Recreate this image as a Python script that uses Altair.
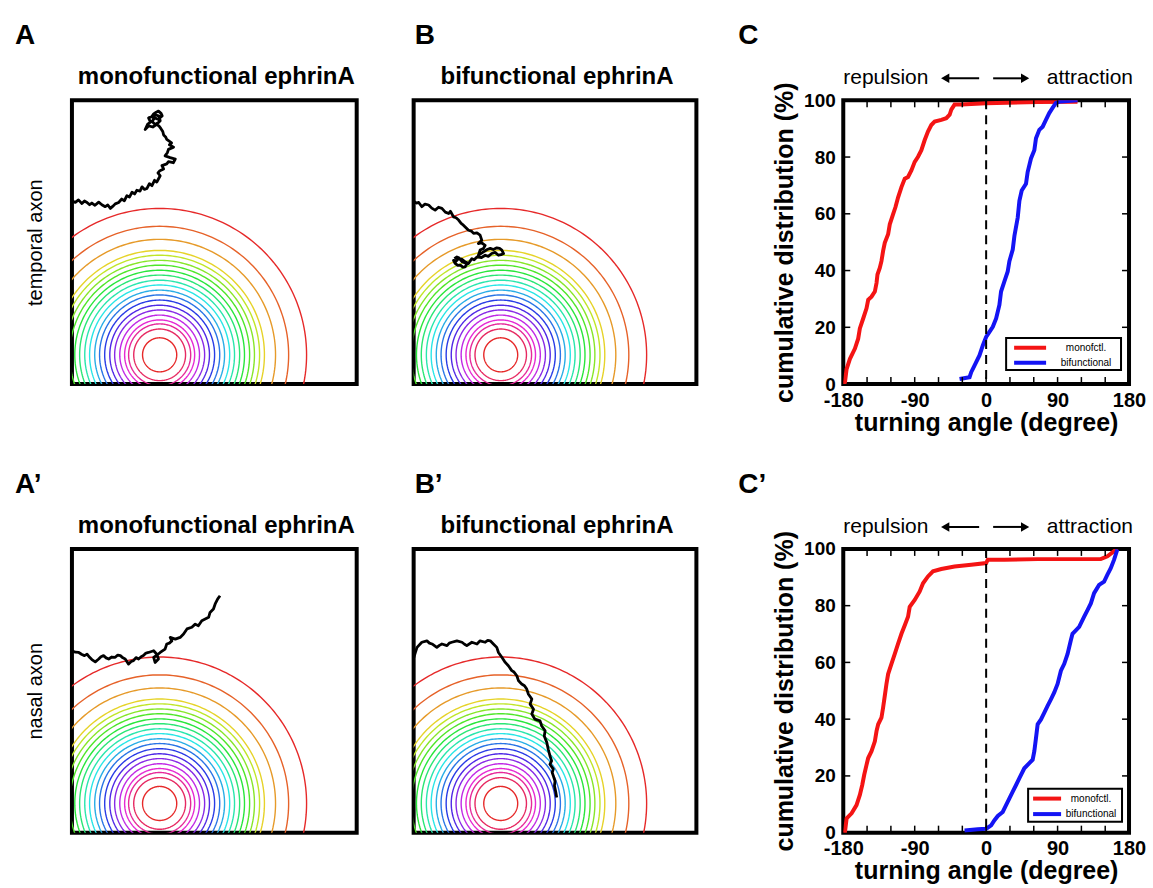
import altair as alt
import numpy as np
import pandas as pd
import colorsys

FONT = "Liberation Sans"

# ---------------- gradient contour rings (field units, box = 100 x 100) ----------
ring_center_x = 30.8
ring_center_y = 10.3
ring_radius = [6.0, 9.1, 10.9, 12.3, 14.0, 15.8, 17.5, 19.3, 21.1, 22.8, 24.6,
               26.3, 28.1, 29.8, 31.6, 33.3, 35.1, 36.8, 40.7, 45.3, 51.6]

# ---------------- axon trajectories (field units) ----------------
trajA_x = [0.0, 1.2, 2.3, 3.5, 4.4, 5.3, 6.2, 7.0, 8.1, 9.4, 10.5, 11.7, 12.6, 13.5, 14.3,
           15.2, 16.4, 17.5, 18.4, 19.3, 20.2, 21.1, 22.0, 22.8, 23.9, 24.6, 25.5, 26.3,
           27.2, 28.1, 29.0, 29.8, 31.0, 30.2, 30.9, 32.2, 31.6, 33.3, 33.9, 35.6, 36.3,
           34.5, 32.7, 33.5, 33.9, 35.7, 34.2, 35.0, 33.3, 32.9, 32.2, 31.9, 31.2, 30.6,
           29.8, 28.4, 27.0, 25.7, 26.6, 27.6, 26.9, 28.0, 28.7, 29.6, 30.4, 31.3, 31.7,
           30.2, 29.1, 28.1, 29.2, 30.4, 31.0, 30.6, 29.5, 28.3, 29.0]
trajA_y = [64.6, 64.0, 64.9, 63.6, 64.5, 64.0, 63.2, 63.8, 63.0, 64.1, 63.2, 62.5, 63.1,
           61.9, 62.6, 63.5, 64.0, 65.2, 64.6, 66.4, 65.9, 67.6, 67.0, 68.3, 68.0, 69.5,
           68.6, 68.9, 70.6, 69.9, 71.8, 71.2, 73.4, 74.4, 75.2, 75.8, 77.0, 77.6, 78.4,
           78.0, 79.3, 79.8, 80.4, 81.5, 82.7, 83.5, 84.3, 85.0, 86.2, 87.1, 87.8, 89.0,
           90.1, 90.9, 91.5, 90.6, 91.0, 89.7, 91.6, 92.3, 93.8, 94.2, 95.2, 95.8, 96.2,
           95.4, 94.5, 93.3, 93.8, 92.6, 91.5, 92.2, 92.8, 94.4, 94.8, 94.3, 93.0]

trajB_x = [0.0, 0.9, 1.8, 2.9, 4.0, 5.3, 6.4, 7.6, 8.8, 10.0, 11.2, 12.4, 13.0, 14.1, 15.0,
           15.9, 16.8, 17.6, 18.6, 19.4, 20.4, 21.2, 22.4, 23.5, 24.1, 22.9, 24.0, 25.3,
           24.7, 23.5, 22.9, 24.7, 26.0, 27.1, 28.2, 29.4, 30.4, 31.2, 31.8, 30.9, 30.0,
           28.8, 27.6, 26.4, 25.3, 24.0, 22.4, 21.4, 20.6, 19.4, 18.2, 17.0, 15.9, 14.9,
           14.1, 14.7, 15.6, 16.5, 17.4, 18.2, 18.9, 17.1, 16.0, 15.3, 14.4]
trajB_y = [64.5, 63.8, 64.0, 62.5, 63.4, 63.1, 62.0, 61.3, 62.3, 61.9, 60.6, 60.1, 60.9,
           58.9, 58.6, 57.8, 56.6, 56.0, 55.0, 54.2, 53.9, 53.1, 53.3, 52.5, 50.7, 49.5,
           49.8, 48.9, 47.8, 47.2, 45.4, 46.6, 47.4, 47.8, 47.4, 48.0, 47.8, 47.2, 46.0,
           45.6, 45.4, 46.4, 46.0, 45.0, 45.4, 44.6, 44.8, 43.8, 44.2, 42.5, 43.1, 44.0,
           44.2, 43.2, 43.6, 42.5, 41.8, 41.9, 41.2, 41.3, 42.4, 43.1, 44.5, 44.8, 44.2]

trajAp_x = [0.0, 1.2, 2.4, 3.5, 4.4, 5.3, 6.2, 7.0, 8.2, 9.4, 10.2, 11.1, 12.0, 12.9, 14.0,
            15.2, 16.1, 17.0, 17.9, 18.7, 19.9, 20.8, 21.6, 22.5, 23.4, 24.3, 25.1, 26.0,
            26.9, 28.7, 29.8, 30.4, 29.2, 28.7, 29.9, 31.0, 32.7, 33.3, 34.2, 35.1, 34.5,
            36.3, 38.0, 39.2, 40.4, 42.1, 43.3, 44.4, 45.6, 46.8, 48.0, 48.5, 49.7, 50.3,
            51.2, 52.0]
trajAp_y = [64.1, 63.6, 63.5, 62.8, 62.4, 62.9, 61.8, 61.0, 60.2, 61.2, 62.0, 62.4, 61.6,
            61.2, 61.9, 61.8, 62.6, 62.4, 61.6, 61.2, 59.4, 60.3, 60.6, 61.7, 61.2, 62.0,
            62.4, 63.3, 63.5, 64.1, 62.9, 61.2, 60.0, 61.8, 62.6, 63.5, 64.7, 66.5, 66.8,
            67.6, 68.8, 68.2, 68.8, 70.0, 71.8, 72.4, 73.5, 72.9, 74.7, 75.3, 75.9, 77.6,
            78.8, 80.6, 82.4, 83.5]

trajBp_x = [0.0, 0.6, 1.2, 2.9, 4.7, 5.6, 6.5, 8.2, 9.1, 10.0, 11.8, 12.6, 13.5, 15.3, 17.1,
            18.0, 18.8, 20.6, 22.4, 23.5, 25.3, 26.2, 27.1, 28.2, 29.4, 30.0, 31.2, 32.4,
            33.5, 34.7, 35.5, 36.5, 37.1, 38.2, 39.2, 40.0, 40.6, 41.8, 41.2, 42.4, 41.8,
            42.9, 44.7, 45.3, 46.5, 46.2, 47.1, 47.6, 48.2, 48.8, 48.2, 49.4, 49.0, 49.4,
            50.0, 49.8, 50.3, 50.6]
trajBp_y = [61.5, 63.5, 65.3, 67.1, 67.6, 66.8, 66.5, 65.3, 66.0, 66.5, 65.9, 66.8, 67.1,
            67.6, 67.1, 66.4, 65.9, 67.1, 66.5, 67.6, 67.1, 67.8, 67.6, 66.5, 65.3, 63.5,
            61.8, 60.0, 58.8, 57.1, 56.6, 55.3, 53.5, 52.4, 51.8, 50.6, 48.8, 47.1, 45.3,
            43.5, 41.8, 40.0, 39.4, 37.6, 35.9, 34.1, 31.8, 29.4, 27.1, 25.3, 24.1, 22.4,
            21.2, 20.0, 18.2, 16.5, 14.1, 12.4]

# ---------------- cumulative distributions ----------------
C_mono_angle = [-180, -177.9, -175.8, -171.6, -165.3, -161.2, -159.1, -154.9, -150.7, -148.6,
                -144.4, -140.2, -138.1, -136.9, -134.0, -131.9, -129.8, -127.7, -123.5,
                -121.4, -117.2, -114.3, -110.9, -106.7, -102.5, -98.4, -94.2, -90.0, -85.8,
                -81.6, -77.4, -73.3, -69.1, -64.9, -56.5, -50.2, -46.0, -43.9, -39.8, -31.4,
                0.0, 64.9, 115.1]
C_mono_pct = [0.0, 0.6, 5.3, 8.9, 12.5, 16.0, 19.6, 23.1, 26.7, 29.7, 30.8, 32.6, 35.6, 38.6,
              40.9, 43.3, 46.9, 49.8, 52.8, 56.3, 59.9, 62.3, 65.8, 69.4, 72.4, 73.0, 75.3,
              78.3, 80.1, 82.4, 86.0, 89.0, 91.3, 92.5, 93.1, 93.7, 94.9, 96.7, 98.5, 98.5,
              99.0, 99.4, 99.5]
C_bi_angle = [-33.5, -20.9, -18.8, -14.7, -8.4, -4.2, 0.0, 4.2, 8.4, 12.6, 16.7, 18.8, 23.0,
              27.2, 29.3, 33.5, 35.6, 39.8, 41.9, 44.8, 50.2, 52.3, 56.5, 60.7, 62.8, 67.0,
              71.2, 75.3, 79.5, 83.7, 87.9, 94.2, 115.1]
C_bi_pct = [1.8, 2.4, 4.2, 6.5, 10.1, 13.6, 16.6, 18.4, 20.2, 23.1, 27.9, 32.6, 36.2, 39.7,
            43.3, 47.4, 52.2, 58.7, 64.6, 68.2, 70.6, 74.7, 79.5, 82.4, 86.6, 89.6, 90.7,
            93.1, 95.5, 97.3, 99.1, 99.6, 100.0]

Cp_mono_angle = [-180, -177.9, -175.8, -169.5, -163.3, -159.1, -156.1, -153.6, -150.7,
                 -148.6, -144.4, -140.2, -138.1, -136.0, -131.9, -129.8, -127.7, -125.6,
                 -123.5, -119.3, -115.1, -110.9, -106.7, -102.5, -98.4, -96.3, -90.0, -83.7,
                 -79.5, -73.3, -67.0, -56.5, -39.8, -18.8, 0.0, 2.1, 23.0, 64.9, 144.4,
                 152.8, 161.2, 165.3]
Cp_mono_pct = [0.0, 0.2, 5.0, 6.8, 9.7, 13.3, 16.8, 20.4, 23.9, 26.3, 28.7, 32.2, 35.8, 38.2,
               40.5, 44.1, 48.2, 52.4, 55.9, 59.5, 63.0, 66.6, 70.1, 73.1, 76.1, 79.6, 82.0,
               85.0, 87.9, 90.3, 92.1, 92.9, 93.8, 94.4, 95.0, 96.2, 96.2, 96.4, 96.4, 97.4,
               99.2, 100.0]
Cp_bi_angle = [-27.2, -10.5, 0.0, 6.3, 10.5, 14.7, 20.9, 25.1, 29.3, 33.5, 37.7, 41.9, 48.1,
               54.4, 58.6, 60.7, 62.8, 64.9, 69.1, 73.3, 77.4, 81.6, 85.8, 90.0, 94.2, 98.4,
               102.6, 106.7, 108.8, 113.0, 117.2, 123.5, 127.7, 131.9, 136.0, 142.3, 148.6,
               152.8, 157.0, 161.2, 165.3]
Cp_bi_pct = [0.8, 1.2, 1.4, 2.6, 4.4, 5.9, 7.3, 9.7, 12.1, 14.5, 16.8, 19.2, 22.7, 24.5, 25.7,
             28.7, 33.4, 38.2, 39.9, 42.3, 44.7, 47.0, 49.4, 52.4, 57.1, 59.5, 63.0, 67.8,
             70.1, 71.3, 72.5, 76.1, 78.4, 80.8, 84.4, 87.3, 88.5, 90.9, 93.2, 96.2, 99.8]

series_names = ["monofctl.", "bifunctional"]
series_colors = ["#f41414", "#1414f4"]
x_tick_labels = [-180, -90, 0, 90, 180]
y_tick_labels = [0, 20, 40, 60, 80, 100]
x_minor_ticks = [-150, -120, -90, -60, -30, 0, 30, 60, 90, 120, 150]
y_minor_ticks = [20, 40, 60, 80]

# ---------------- geometry ----------------
W_FIELD_A, W_FIELD_B, H_FIELD = 285, 283, 284
W_CDF, H_CDF = 286, 284
W_GAP = 33

FX = alt.Scale(domain=[0, 100], nice=False, zero=False)
FY = alt.Scale(domain=[0, 100], nice=False, zero=False)

# ring contour points
theta = np.linspace(0, 2 * np.pi, 241)
n_r = len(ring_radius)
ring_rows = []
for i, r in enumerate(ring_radius):
    h = 1.0 - i / (n_r - 1)
    rgb = colorsys.hsv_to_rgb(h % 1.0, 0.82, 0.9)
    hexc = "#%02x%02x%02x" % tuple(int(round(c * 255)) for c in rgb)
    for k, t in enumerate(theta):
        ring_rows.append({"ring": i, "k": k, "hex": hexc,
                          "x": ring_center_x + r * np.cos(t),
                          "y": ring_center_y + r * np.sin(t)})
ring_df = pd.DataFrame(ring_rows)
one = pd.DataFrame({"a": [0]})


def text_layer(txt, x, y, size, weight="normal", align="left"):
    return alt.Chart(pd.DataFrame({"t": [txt]})).mark_text(
        align=align, baseline="alphabetic", fontSize=size, fontWeight=weight, font=FONT,
        color="black").encode(x=alt.value(x), y=alt.value(y), text="t:N")


def field_panel(tx, ty, title, letter, row_label, width, letter_x):
    if row_label:
        yax = alt.Axis(title=row_label, labels=False, ticks=False, domain=False, grid=False,
                       titleFontSize=20, titleFontWeight="normal", titleFont=FONT,
                       titleColor="black", titlePadding=26)
    else:
        yax = None
    rings = alt.Chart(ring_df).mark_line(strokeWidth=1.4, clip=True).encode(
        x=alt.X("x:Q", scale=FX, axis=None),
        y=alt.Y("y:Q", scale=FY, axis=yax),
        detail="ring:N",
        order="k:Q",
        color=alt.Color("hex:N", scale=None),
    )
    tdf = pd.DataFrame({"x": tx, "y": ty, "i": list(range(len(tx)))})
    traj = alt.Chart(tdf).mark_line(color="black", strokeWidth=2.8, clip=True,
                                    strokeJoin="round").encode(
        x=alt.X("x:Q", scale=FX, axis=None),
        y=alt.Y("y:Q", scale=FY, axis=yax),
        order="i:Q",
    )
    lab = text_layer(letter, letter_x, -56, 28, "bold")
    ttl = text_layer(title, width / 2 + 2, -16, 24, "bold", "center")
    return alt.layer(rings, traj, lab, ttl).properties(width=width, height=H_FIELD)


def spacer():
    return alt.Chart(one).mark_point(opacity=0).encode(
        x=alt.value(0), y=alt.value(0)).properties(
        width=W_GAP, height=H_FIELD, view=alt.ViewBackground(stroke="transparent"))


def cdf_panel(ma, mp, ba, bp, letter, leg):
    rows = []
    for name, aa, pp in [(series_names[0], ma, mp), (series_names[1], ba, bp)]:
        for k, (a, p) in enumerate(zip(aa, pp)):
            rows.append({"series": name, "angle": a, "pct": p, "k": k})
    df = pd.DataFrame(rows)
    xs = alt.Scale(domain=[-180, 180], nice=False, zero=False)
    ys = alt.Scale(domain=[0, 100], nice=False, zero=False)
    xax = alt.Axis(values=x_tick_labels, title="turning angle (degree)", ticks=False,
                   domain=False, grid=False, labelFontSize=20, labelFontWeight="bold",
                   labelFont=FONT, labelColor="black", labelPadding=6, labelFlush=False,
                   labelOverlap=False, labelExpr="toString(datum.value)",
                   titleFontSize=25, titleFontWeight="bold",
                   titleFont=FONT, titleColor="black", titlePadding=0)
    yax = alt.Axis(values=y_tick_labels, title="cumulative distribution (%)", ticks=False,
                   domain=False, grid=False, labelFontSize=19, labelFontWeight="bold",
                   labelFont=FONT, labelColor="black", labelPadding=8, labelFlush=False,
                   labelOverlap=False, titleFontSize=25, titleFontWeight="bold",
                   titleFont=FONT, titleColor="black", titlePadding=6)
    cscale = alt.Scale(domain=series_names, range=series_colors)
    lines = alt.Chart(df).mark_line(strokeWidth=4, clip=True).encode(
        x=alt.X("angle:Q", scale=xs, axis=xax),
        y=alt.Y("pct:Q", scale=ys, axis=yax),
        color=alt.Color("series:N", scale=cscale, legend=None),
        detail="series:N",
        order="k:Q",
    )
    zero = alt.Chart(pd.DataFrame({"angle": [0]})).mark_rule(
        color="black", strokeWidth=2, strokeDash=[9, 6]).encode(
        x=alt.X("angle:Q", scale=xs, axis=xax))
    txd = pd.DataFrame({"angle": x_minor_ticks})
    tyd = pd.DataFrame({"pct": y_minor_ticks})
    t_top = alt.Chart(txd).mark_rule(color="black", strokeWidth=1.5).encode(
        x=alt.X("angle:Q", scale=xs, axis=xax), y=alt.value(0), y2=alt.value(7))
    t_bot = alt.Chart(txd).mark_rule(color="black", strokeWidth=1.5).encode(
        x=alt.X("angle:Q", scale=xs, axis=xax), y=alt.value(H_CDF), y2=alt.value(H_CDF - 7))
    t_left = alt.Chart(tyd).mark_rule(color="black", strokeWidth=1.5).encode(
        y=alt.Y("pct:Q", scale=ys, axis=yax), x=alt.value(0), x2=alt.value(7))
    t_right = alt.Chart(tyd).mark_rule(color="black", strokeWidth=1.5).encode(
        y=alt.Y("pct:Q", scale=ys, axis=yax), x=alt.value(W_CDF), x2=alt.value(W_CDF - 7))

    # legend box (annotation)
    lx0, lx1, ly0, ly1, sx0, sx1, tcx = leg
    box = alt.Chart(one).mark_rect(fill="white", stroke="black", strokeWidth=2).encode(
        x=alt.value(lx0), x2=alt.value(lx1), y=alt.value(ly0), y2=alt.value(ly1))
    row_y = [ly0 + (ly1 - ly0) * 0.3, ly0 + (ly1 - ly0) * 0.77]
    leg_layers = []
    for name, col, yy in zip(series_names, series_colors, row_y):
        leg_layers.append(alt.Chart(one).mark_rule(strokeWidth=4, color=col).encode(
            x=alt.value(sx0), x2=alt.value(sx1), y=alt.value(yy)))
        leg_layers.append(alt.Chart(pd.DataFrame({"t": [name]})).mark_text(
            fontSize=10, font=FONT, color="black", align="center", baseline="middle").encode(
            x=alt.value(tcx), y=alt.value(yy), text="t:N"))

    # direction annotation above the plot
    rep = text_layer("repulsion", 0, -16, 21)
    att = text_layer("attraction", W_CDF + 4, -16, 21, align="right")
    arr_l = alt.Chart(one).mark_rule(color="black", strokeWidth=2).encode(
        x=alt.value(104), x2=alt.value(136), y=alt.value(-22))
    arr_r = alt.Chart(one).mark_rule(color="black", strokeWidth=2).encode(
        x=alt.value(150), x2=alt.value(180), y=alt.value(-22))
    head_l = alt.Chart(one).mark_point(shape="triangle-left", filled=True, size=90,
                                       color="black", opacity=1).encode(
        x=alt.value(102), y=alt.value(-22))
    head_r = alt.Chart(one).mark_point(shape="triangle-right", filled=True, size=90,
                                       color="black", opacity=1).encode(
        x=alt.value(182), y=alt.value(-22))
    lab = text_layer(letter, -105, -56, 28, "bold")

    return alt.layer(lines, zero, t_top, t_bot, t_left, t_right, box, *leg_layers,
                     rep, att, arr_l, arr_r, head_l, head_r, lab).properties(
        width=W_CDF, height=H_CDF)


A = field_panel(trajA_x, trajA_y, "monofunctional ephrinA", "A", "temporal axon",
                W_FIELD_A, -57)
B = field_panel(trajB_x, trajB_y, "bifunctional ephrinA", "B", None, W_FIELD_B, 1)
C = cdf_panel(C_mono_angle, C_mono_pct, C_bi_angle, C_bi_pct, "C",
              (163, 278, 238, 270, 171, 203, 243))
Ap = field_panel(trajAp_x, trajAp_y, "monofunctional ephrinA", "A’", "nasal axon",
                 W_FIELD_A, -57)
Bp = field_panel(trajBp_x, trajBp_y, "bifunctional ephrinA", "B’", None, W_FIELD_B, 1)
Cp = cdf_panel(Cp_mono_angle, Cp_mono_pct, Cp_bi_angle, Cp_bi_pct, "C’",
               (185, 279, 240, 273, 190, 218, 248))

chart = alt.concat(A, B, spacer(), C, Ap, Bp, spacer(), Cp, columns=4,
                   spacing={"row": 165, "column": 57}, bounds="flush").properties(
    padding={"left": 13, "top": 20, "right": 5, "bottom": 5}
).configure(font=FONT).configure_view(stroke="black", strokeWidth=4)

chart.save("out.html", embed_options={"renderer": "svg", "actions": False})
